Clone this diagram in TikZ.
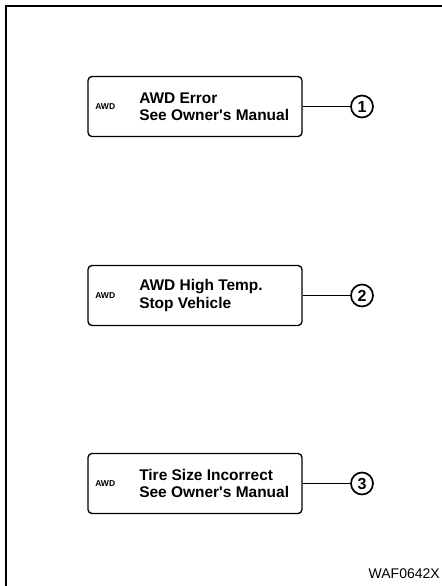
\documentclass[tikz,border=0pt]{standalone}
\usepackage{fontspec}
\setmainfont{Liberation Sans}
\begin{document}
\begin{tikzpicture}[x=0.75pt,y=-0.75pt,
  msgbox/.style={draw,line width=1pt,rounded corners=3pt,minimum width=160.5pt,minimum height=45pt,inner sep=0pt},
  small/.style={font=\bfseries\fontsize{6.4}{7}\selectfont,inner sep=0pt,anchor=west},
  msg/.style={font=\bfseries\fontsize{11.6}{12.8}\selectfont,align=left,inner sep=0pt,anchor=west},
  num/.style={draw,circle,line width=1.3pt,minimum size=16.5pt,inner sep=0pt,font=\bfseries\fontsize{12}{12}\selectfont},
  conn/.style={line width=1pt}]
\useasboundingbox (0,0) rectangle (442,586);
\draw[line width=1.2pt] (6,586) -- (6,6) -- (442,6);
% box 1
\node[msgbox] (b1) at (195,106.5) {};
\node[small] (a1) at (95,106.5) {AWD};
\node[msg] (t1) at (139,106.5) {AWD Error\\See Owner\textquotesingle s Manual};
\node[num] (c1) at (362,106.5) {1};
\draw[conn] (b1.east) -- (c1.west);
% box 2
\node[msgbox] (b2) at (195,295.5) {};
\node[small] (a2) at (95,295.5) {AWD};
\node[msg] (t2) at (139,295.5) {AWD High Temp.\\Stop Vehicle};
\node[num] (c2) at (362,295.5) {2};
\draw[conn] (b2.east) -- (c2.west);
% box 3
\node[msgbox] (b3) at (195,483.5) {};
\node[small] (a3) at (95,483.5) {AWD};
\node[msg] (t3) at (139,483.5) {Tire Size Incorrect\\See Owner\textquotesingle s Manual};
\node[num] (c3) at (362,483.5) {3};
\draw[conn] (b3.east) -- (c3.west);
% label
\node[font=\fontsize{10.5}{12}\selectfont,anchor=base east,inner sep=0pt] (lbl) at (440,578) {WAF0642X};
\end{tikzpicture}
\end{document}
